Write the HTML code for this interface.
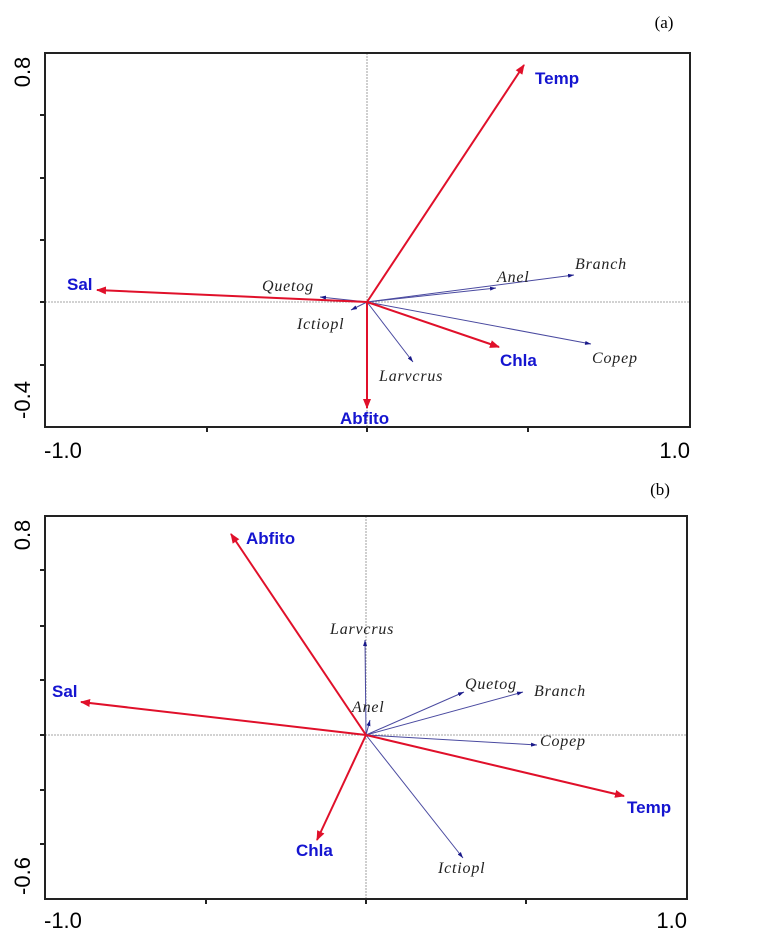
<!DOCTYPE html>
<html><head><style>body{margin:0;background:#fff}</style></head><body>
<svg width="763" height="945" xmlns="http://www.w3.org/2000/svg" font-family="Liberation Sans, Arial, sans-serif">
<defs>
<marker id="r" markerWidth="10" markerHeight="8" refX="9" refY="4" orient="auto" markerUnits="userSpaceOnUse"><path d="M0,0L10,4L0,8z" fill="#e0102a"/></marker>
<marker id="b" markerWidth="6" markerHeight="4" refX="6" refY="2" orient="auto" markerUnits="userSpaceOnUse"><path d="M0,0L6,2L0,4z" fill="#1a1a8a"/></marker>
</defs>
<!-- Panel a -->
<text x="664" y="28" font-family="Liberation Serif, serif" font-size="17" text-anchor="middle">(a)</text>
<line x1="367" y1="53" x2="367" y2="427" stroke="#888" stroke-dasharray="2,1" stroke-width="0.8"/>
<line x1="45" y1="302" x2="690" y2="302" stroke="#888" stroke-dasharray="2,1" stroke-width="0.8"/>
<rect x="45" y="53" width="645" height="374" fill="none" stroke="#222" stroke-width="2"/>
<g stroke="#222" stroke-width="2">
<line x1="40" y1="115" x2="45" y2="115"/><line x1="40" y1="178" x2="45" y2="178"/><line x1="40" y1="240" x2="45" y2="240"/><line x1="40" y1="302" x2="45" y2="302"/><line x1="40" y1="365" x2="45" y2="365"/>
<line x1="207" y1="427" x2="207" y2="432"/><line x1="367" y1="427" x2="367" y2="432"/><line x1="528" y1="427" x2="528" y2="432"/>
</g>
<text transform="translate(30,72) rotate(-90)" font-size="22" text-anchor="middle">0.8</text>
<text transform="translate(30,400) rotate(-90)" font-size="22" text-anchor="middle">-0.4</text>
<text x="44" y="458" font-size="22">-1.0</text>
<text x="690" y="458" font-size="22" text-anchor="end">1.0</text>
<g stroke="#4a4aa0" stroke-width="1" marker-end="url(#b)">
<line x1="367" y1="302" x2="574" y2="275"/><line x1="367" y1="302" x2="496" y2="288"/><line x1="367" y1="302" x2="591" y2="344"/><line x1="367" y1="302" x2="413" y2="362"/><line x1="367" y1="302" x2="320" y2="297"/><line x1="367" y1="302" x2="351" y2="310"/>
</g>
<g stroke="#e0102a" stroke-width="2" marker-end="url(#r)">
<line x1="367" y1="302" x2="524" y2="65"/><line x1="367" y1="302" x2="97" y2="290"/><line x1="367" y1="302" x2="367" y2="408"/><line x1="367" y1="302" x2="499" y2="347"/>
</g>
<g fill="#1515d0" font-weight="bold" font-size="17">
<text x="535" y="84">Temp</text><text x="67" y="290">Sal</text><text x="340" y="424">Abfito</text><text x="500" y="366">Chla</text>
</g>
<g font-family="Liberation Serif, serif" font-style="italic" font-size="16" letter-spacing="0.8" fill="#222">
<text x="575" y="269">Branch</text><text x="497" y="282">Anel</text><text x="592" y="363">Copep</text><text x="379" y="381">Larvcrus</text><text x="262" y="291">Quetog</text><text x="297" y="329">Ictiopl</text>
</g>
<!-- Panel b -->
<text x="660" y="495" font-family="Liberation Serif, serif" font-size="17" text-anchor="middle">(b)</text>
<line x1="366" y1="516" x2="366" y2="899" stroke="#888" stroke-dasharray="2,1" stroke-width="0.8"/>
<line x1="45" y1="735" x2="687" y2="735" stroke="#888" stroke-dasharray="2,1" stroke-width="0.8"/>
<rect x="45" y="516" width="642" height="383" fill="none" stroke="#222" stroke-width="2"/>
<g stroke="#222" stroke-width="2">
<line x1="40" y1="570" x2="45" y2="570"/><line x1="40" y1="626" x2="45" y2="626"/><line x1="40" y1="680" x2="45" y2="680"/><line x1="40" y1="735" x2="45" y2="735"/><line x1="40" y1="790" x2="45" y2="790"/><line x1="40" y1="844" x2="45" y2="844"/>
<line x1="206" y1="899" x2="206" y2="904"/><line x1="366" y1="899" x2="366" y2="904"/><line x1="526" y1="899" x2="526" y2="904"/>
</g>
<text transform="translate(30,535) rotate(-90)" font-size="22" text-anchor="middle">0.8</text>
<text transform="translate(30,876) rotate(-90)" font-size="22" text-anchor="middle">-0.6</text>
<text x="44" y="928" font-size="22">-1.0</text>
<text x="687" y="928" font-size="22" text-anchor="end">1.0</text>
<g stroke="#4a4aa0" stroke-width="1" marker-end="url(#b)">
<line x1="366" y1="735" x2="365" y2="640"/><line x1="366" y1="735" x2="370" y2="720"/><line x1="366" y1="735" x2="464" y2="692"/><line x1="366" y1="735" x2="523" y2="692"/><line x1="366" y1="735" x2="537" y2="745"/><line x1="366" y1="735" x2="463" y2="858"/>
</g>
<g stroke="#e0102a" stroke-width="2" marker-end="url(#r)">
<line x1="366" y1="735" x2="231" y2="534"/><line x1="366" y1="735" x2="81" y2="702"/><line x1="366" y1="735" x2="317" y2="840"/><line x1="366" y1="735" x2="624" y2="796"/>
</g>
<g fill="#1515d0" font-weight="bold" font-size="17">
<text x="246" y="544">Abfito</text><text x="52" y="697">Sal</text><text x="296" y="856">Chla</text><text x="627" y="813">Temp</text>
</g>
<g font-family="Liberation Serif, serif" font-style="italic" font-size="16" letter-spacing="0.8" fill="#222">
<text x="330" y="634">Larvcrus</text><text x="352" y="712">Anel</text><text x="465" y="689">Quetog</text><text x="534" y="696">Branch</text><text x="540" y="746">Copep</text><text x="438" y="873">Ictiopl</text>
</g>
</svg>
</body></html>
